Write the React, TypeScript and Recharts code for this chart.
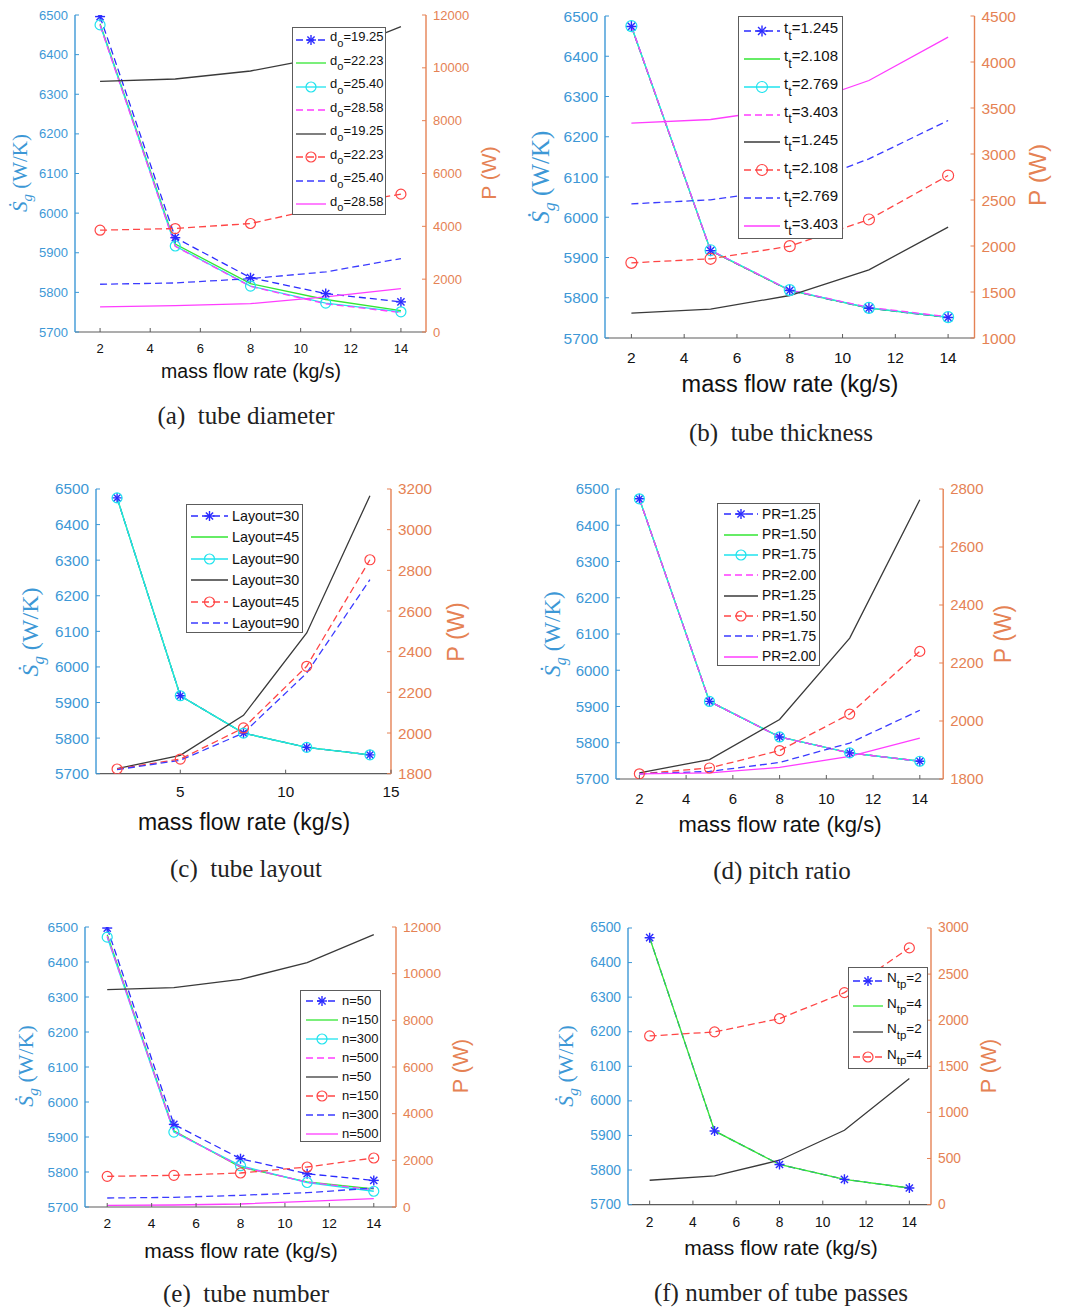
import React from "react";
import { LineChart, Line, XAxis, YAxis } from "recharts";

const SANS = "'Liberation Sans', Arial, Helvetica, sans-serif";
const SERIF = "'Liberation Serif', 'Times New Roman', serif";
const LEFT_AXIS = "#3d98d6";
const RIGHT_AXIS = "#e58254";
const FRAME = "#5c5c5c";

// shared x values (kg/s) and axis ticks
const flowRate = [2, 5, 8, 11, 14];
const xTicksEven = [2, 4, 6, 8, 10, 12, 14];
const xTicksFive = [5, 10, 15];
const entropyTicks = [5700, 5800, 5900, 6000, 6100, 6200, 6300, 6400, 6500];
const powerTicks12k = [0, 2000, 4000, 6000, 8000, 10000, 12000];
const powerTicks4500 = [1000, 1500, 2000, 2500, 3000, 3500, 4000, 4500];
const powerTicks3200 = [1800, 2000, 2200, 2400, 2600, 2800, 3000, 3200];
const powerTicks2800 = [1800, 2000, 2200, 2400, 2600, 2800];
const powerTicks3000 = [0, 500, 1000, 1500, 2000, 2500, 3000];

// (a) tube diameter
const diameterKeys = ["19.25", "22.23", "25.40", "28.58"];
const diameterEntropy = [
  [6496, 5938, 5837, 5797, 5776],
  [6478, 5922, 5822, 5782, 5754],
  [6475, 5917, 5816, 5773, 5751],
  [6474, 5916, 5815, 5771, 5749],
];
const diameterPower = [
  [9488, 9577, 9880, 10420, 11560],
  [3854, 3917, 4107, 4738, 5218],
  [1807, 1857, 2021, 2274, 2780],
  [948, 998, 1074, 1327, 1643],
];

// (b) tube thickness
const thicknessKeys = ["1.245", "2.108", "2.769", "3.403"];
const thicknessEntropy = [
  [6474, 5917, 5818, 5774, 5751],
  [6474, 5917, 5818, 5774, 5751],
  [6475, 5918, 5819, 5775, 5752],
  [6475, 5918, 5819, 5776, 5753],
];
const thicknessPower = [
  [1270, 1313, 1462, 1741, 2205],
  [1817, 1861, 1998, 2288, 2766],
  [2458, 2502, 2620, 2947, 3364],
  [3335, 3375, 3500, 3799, 4270],
];

// (c) tube layout
const layoutKeys = ["30", "45", "90"];
const layoutEntropy = [
  [6475, 5919, 5814, 5774, 5753],
  [6475, 5919, 5814, 5774, 5753],
  [6475, 5919, 5814, 5774, 5753],
];
const layoutPower = [
  [1825, 1890, 2087, 2492, 3167],
  [1823, 1872, 2025, 2328, 2852],
  [1820, 1866, 2000, 2295, 2754],
];

// (d) pitch ratio
const pitchKeys = ["1.25", "1.50", "1.75", "2.00"];
const pitchEntropy = [
  [6473, 5914, 5816, 5772, 5749],
  [6473, 5914, 5816, 5772, 5749],
  [6473, 5914, 5816, 5772, 5749],
  [6473, 5914, 5816, 5772, 5749],
];
const pitchPower = [
  [1821, 1867, 2005, 2286, 2763],
  [1818, 1838, 1898, 2024, 2240],
  [1818, 1826, 1857, 1924, 2037],
  [1818, 1821, 1840, 1878, 1941],
];

// (e) tube number
const tubeKeys = ["50", "150", "300", "500"];
const tubeEntropy = [
  [6497, 5936, 5838, 5795, 5776],
  [6478, 5918, 5814, 5772, 5752],
  [6471, 5914, 5818, 5770, 5745],
  [6474, 5916, 5815, 5771, 5749],
];
const tubePower = [
  [9314, 9400, 9757, 10471, 11671],
  [1314, 1357, 1457, 1714, 2100],
  [386, 414, 500, 614, 814],
  [71, 86, 129, 243, 357],
];

// (f) number of tube passes
const passKeys = ["2", "4"];
const passEntropy = [
  [6472, 5913, 5816, 5773, 5748],
  [6472, 5913, 5816, 5773, 5748],
];
const passPower = [
  [264, 311, 481, 806, 1367],
  [1829, 1873, 2017, 2299, 2784],
];

type Style = { color: string; dash?: string; marker?: "star" | "circle" };

const entropyStyles: Style[] = [
  { color: "#2b2bff", dash: "7 4", marker: "star" },
  { color: "#33e633" },
  { color: "#1fe3ee", marker: "circle" },
  { color: "#ff3dff", dash: "7 4" },
];
const powerStyles: Style[] = [
  { color: "#3a3a3a" },
  { color: "#ff4545", dash: "7 4", marker: "circle" },
  { color: "#3b3bff", dash: "7 4" },
  { color: "#ff3dff" },
];

function Marker({ shape, cx, cy, color, r }: { shape: string; cx: number; cy: number; color: string; r: number }) {
  if (shape === "circle") {
    return <circle cx={cx} cy={cy} r={r} fill="none" stroke={color} strokeWidth={1.2} />;
  }
  const d = r * 0.72;
  return (
    <g stroke={color} strokeWidth={1.4}>
      <line x1={cx - r} y1={cy} x2={cx + r} y2={cy} />
      <line x1={cx} y1={cy - r} x2={cx} y2={cy + r} />
      <line x1={cx - d} y1={cy - d} x2={cx + d} y2={cy + d} />
      <line x1={cx - d} y1={cy + d} x2={cx + d} y2={cy - d} />
    </g>
  );
}

function makeDot(style: Style, r: number) {
  if (!style.marker) return false;
  return (p: any) => (
    <Marker key={`m-${p.index}`} shape={style.marker as string} cx={p.cx} cy={p.cy} color={style.color} r={r} />
  );
}

type Panel = {
  box: [number, number, number, number];
  xTicks: number[];
  pDomain: [number, number];
  pTicks: number[];
  entropy: number[][];
  power: number[][];
  symbol: string;
  sub: string;
  keys: string[];
  tickFont: number;
  tickGap: number;
  xLabel: [number, number, number];
  leftLabel: [number, number, number];
  rightLabel: [number, number, number];
  caption: string;
  captionPos: [number, number];
  legend: { x: number; y: number; w: number; h: number; sample: number; pad: number; font: number };
  marker: number;
};

const panels: Panel[] = [
  {
    box: [75, 15, 426, 332], xTicks: xTicksEven, pDomain: [0, 12000], pTicks: powerTicks12k,
    entropy: diameterEntropy, power: diameterPower, symbol: "d", sub: "o", keys: diameterKeys,
    tickFont: 13, tickGap: 16, xLabel: [251, 372, 19.5], leftLabel: [22, 173, 21], rightLabel: [488, 173, 21],
    caption: "(a)  tube diameter", captionPos: [246, 415],
    legend: { x: 292, y: 27, w: 94, h: 188, sample: 30, pad: 3, font: 13 }, marker: 5,
  },
  {
    box: [605, 15.5, 974.5, 337.5], xTicks: xTicksEven, pDomain: [1000, 4500], pTicks: powerTicks4500,
    entropy: thicknessEntropy, power: thicknessPower, symbol: "t", sub: "t", keys: thicknessKeys,
    tickFont: 15.5, tickGap: 19.5, xLabel: [790, 385, 23.5], leftLabel: [543, 177, 25], rightLabel: [1038, 175, 24.5],
    caption: "(b)  tube thickness", captionPos: [781, 432],
    legend: { x: 738, y: 16, w: 105, h: 223, sample: 36, pad: 5, font: 15 }, marker: 5.5,
  },
  {
    box: [96, 489.3, 391, 774], xTicks: xTicksFive, pDomain: [1800, 3200], pTicks: powerTicks3200,
    entropy: layoutEntropy, power: layoutPower, symbol: "Layout", sub: "", keys: layoutKeys,
    tickFont: 15.3, tickGap: 18, xLabel: [244, 822, 23], leftLabel: [33, 632, 24], rightLabel: [457, 632, 23.5],
    caption: "(c)  tube layout", captionPos: [246, 868],
    legend: { x: 186, y: 504, w: 117, h: 129, sample: 37, pad: 4, font: 14.3 }, marker: 5,
  },
  {
    box: [615.5, 489.3, 942.7, 779.3], xTicks: xTicksEven, pDomain: [1800, 2800], pTicks: powerTicks2800,
    entropy: pitchEntropy, power: pitchPower, symbol: "PR", sub: "", keys: pitchKeys,
    tickFont: 15, tickGap: 20, xLabel: [780, 825, 22], leftLabel: [555, 634, 23], rightLabel: [1003, 634, 23],
    caption: "(d) pitch ratio", captionPos: [782, 870],
    legend: { x: 717, y: 503, w: 103, h: 163, sample: 34, pad: 6, font: 13.8 }, marker: 5,
  },
  {
    box: [85, 926.7, 396, 1206.7], xTicks: xTicksEven, pDomain: [0, 12000], pTicks: powerTicks12k,
    entropy: tubeEntropy, power: tubePower, symbol: "n", sub: "", keys: tubeKeys,
    tickFont: 13.7, tickGap: 16, xLabel: [241, 1250, 21], leftLabel: [28, 1066, 22], rightLabel: [462, 1066, 21.5],
    caption: "(e)  tube number", captionPos: [246, 1293],
    legend: { x: 300, y: 990, w: 81, h: 152, sample: 32, pad: 5, font: 13 }, marker: 5,
  },
  {
    box: [628, 927.7, 931, 1204.3], xTicks: xTicksEven, pDomain: [0, 3000], pTicks: powerTicks3000,
    entropy: passEntropy, power: passPower, symbol: "N", sub: "tp", keys: passKeys,
    tickFont: 13.8, tickGap: 18, xLabel: [781, 1247, 21], leftLabel: [568, 1066, 22], rightLabel: [990, 1066, 21.5],
    caption: "(f) number of tube passes", captionPos: [781, 1292],
    legend: { x: 848, y: 967, w: 80, h: 102, sample: 30, pad: 4, font: 13.5 }, marker: 5,
  },
];

const AXIS_W = 60;
const AXIS_H = 34;
const TOP = 16;
const TICK = 4;

function SeriesName({ symbol, sub, value }: { symbol: string; sub: string; value: string }) {
  return (
    <span>
      {symbol}
      {sub ? <span style={{ fontSize: "0.85em", position: "relative", top: "0.5em" }}>{sub}</span> : null}
      {"=" + value}
    </span>
  );
}

function LegendBox({ p }: { p: Panel }) {
  const n = p.keys.length;
  const entries = [
    ...p.keys.map((k, i) => ({ key: k, style: entropyStyles[i] })),
    ...p.keys.map((k, i) => ({ key: k, style: powerStyles[i] })),
  ];
  const L = p.legend;
  const rowH = L.h / (2 * n);
  return (
    <div
      style={{
        position: "absolute", left: L.x, top: L.y, width: L.w, height: L.h, boxSizing: "border-box",
        border: `1.3px solid ${FRAME}`, background: "#fff", fontFamily: SANS, fontSize: L.font, color: "#111",
      }}
    >
      {entries.map((e, i) => (
        <div key={i} style={{ position: "absolute", left: L.pad, top: rowH * i, height: rowH, display: "flex", alignItems: "center", whiteSpace: "nowrap" }}>
          <svg width={L.sample} height={14} style={{ marginRight: 4, flex: "none" }}>
            <line x1={0} y1={7} x2={L.sample} y2={7} stroke={e.style.color} strokeWidth={1.3} strokeDasharray={e.style.dash} />
            {e.style.marker ? <Marker shape={e.style.marker} cx={L.sample / 2} cy={7} color={e.style.color} r={p.marker} /> : null}
          </svg>
          <div style={{ marginTop: p.sub ? -6 : 0 }}>
            <SeriesName symbol={p.symbol} sub={p.sub} value={e.key} />
          </div>
        </div>
      ))}
    </div>
  );
}

function PanelChart({ p }: { p: Panel }) {
  const [x0, y0, x1, y1] = p.box;
  const width = x1 - x0 + 2 * AXIS_W;
  const height = y1 - y0 + TOP + AXIS_H;
  const rows = flowRate.map((x, i) => {
    const row: Record<string, number> = { x };
    p.entropy.forEach((s, j) => (row[`s${j}`] = s[i]));
    p.power.forEach((s, j) => (row[`p${j}`] = s[i]));
    return row;
  });
  const font = { fontFamily: SANS, fontSize: p.tickFont };

  const bottomTick = (t: any) => (
    <g key={`b-${t.index}`}>
      <line x1={t.x} x2={t.x} y1={t.y} y2={t.y - TICK} stroke={FRAME} />
      <text x={t.x} y={t.y + p.tickGap} textAnchor="middle" dominantBaseline="central" fill="#111" {...font}>
        {t.payload.value}
      </text>
    </g>
  );
  const topTick = (t: any) => (
    <line key={`t-${t.index}`} x1={t.x} x2={t.x} y1={t.y} y2={t.y + TICK} stroke={FRAME} />
  );
  const leftTick = (t: any) => (
    <g key={`l-${t.index}`}>
      <line x1={t.x} x2={t.x + TICK} y1={t.y} y2={t.y} stroke={LEFT_AXIS} />
      <text x={t.x - 7} y={t.y} textAnchor="end" dominantBaseline="central" fill={LEFT_AXIS} {...font}>
        {t.payload.value}
      </text>
    </g>
  );
  const rightTick = (t: any) => (
    <g key={`r-${t.index}`}>
      <line x1={t.x} x2={t.x - TICK} y1={t.y} y2={t.y} stroke={RIGHT_AXIS} />
      <text x={t.x + 7} y={t.y} textAnchor="start" dominantBaseline="central" fill={RIGHT_AXIS} {...font}>
        {t.payload.value}
      </text>
    </g>
  );

  return (
    <>
      <div style={{ position: "absolute", left: x0 - AXIS_W, top: y0 - TOP }}>
        <LineChart width={width} height={height} data={rows} margin={{ top: TOP, right: 0, bottom: 0, left: 0 }}>
          <XAxis
            xAxisId="bottom" dataKey="x" type="number" domain={[1, 15]} ticks={p.xTicks} interval={0}
            orientation="bottom" height={AXIS_H} tickSize={0} tickMargin={0} tickLine={false}
            axisLine={{ stroke: FRAME, strokeWidth: 1.2 }} tick={bottomTick} allowDataOverflow
          />
          <XAxis
            xAxisId="top" dataKey="x" type="number" domain={[1, 15]} ticks={p.xTicks} interval={0}
            orientation="top" height={0} tickSize={0} tickMargin={0} tickLine={false}
            axisLine={{ stroke: FRAME, strokeWidth: 1.2 }} tick={topTick} allowDataOverflow
          />
          <YAxis
            yAxisId="s" orientation="left" type="number" width={AXIS_W} domain={[5700, 6500]} ticks={entropyTicks}
            interval={0} tickSize={0} tickMargin={0} tickLine={false}
            axisLine={{ stroke: LEFT_AXIS, strokeWidth: 1.4 }} tick={leftTick} allowDataOverflow
          />
          <YAxis
            yAxisId="p" orientation="right" type="number" width={AXIS_W} domain={p.pDomain} ticks={p.pTicks}
            interval={0} tickSize={0} tickMargin={0} tickLine={false}
            axisLine={{ stroke: RIGHT_AXIS, strokeWidth: 1.4 }} tick={rightTick} allowDataOverflow
          />
          {p.entropy.map((_, j) => (
            <Line
              key={`s${j}`} xAxisId="bottom" yAxisId="s" type="linear" dataKey={`s${j}`}
              stroke={entropyStyles[j].color} strokeWidth={1.3} strokeDasharray={entropyStyles[j].dash}
              dot={makeDot(entropyStyles[j], p.marker)} activeDot={false} isAnimationActive={false}
            />
          ))}
          {p.power.map((_, j) => (
            <Line
              key={`p${j}`} xAxisId="bottom" yAxisId="p" type="linear" dataKey={`p${j}`}
              stroke={powerStyles[j].color} strokeWidth={1.3} strokeDasharray={powerStyles[j].dash}
              dot={makeDot(powerStyles[j], p.marker)} activeDot={false} isAnimationActive={false}
            />
          ))}
        </LineChart>
      </div>
      <LegendBox p={p} />
      <div style={centered(p.xLabel[0], p.xLabel[1], { fontFamily: SANS, fontSize: p.xLabel[2], color: "#111" })}>
        mass flow rate (kg/s)
      </div>
      <div style={centered(p.captionPos[0], p.captionPos[1], { fontFamily: SERIF, fontSize: 25, color: "#222", whiteSpace: "pre" })}>
        {p.caption}
      </div>
      <div style={centered(p.leftLabel[0], p.leftLabel[1], { fontFamily: SERIF, fontSize: p.leftLabel[2], color: LEFT_AXIS }, true)}>
        <span style={{ fontStyle: "italic" }}>{"S\u0307"}</span>
        <sub style={{ fontStyle: "italic", fontSize: "0.7em" }}>g</sub> (W/K)
      </div>
      <div style={centered(p.rightLabel[0], p.rightLabel[1], { fontFamily: SANS, fontSize: p.rightLabel[2], color: RIGHT_AXIS }, true)}>
        P (W)
      </div>
    </>
  );
}

function centered(cx: number, cy: number, extra: React.CSSProperties, rotate = false): React.CSSProperties {
  return {
    position: "absolute", left: cx, top: cy, whiteSpace: "nowrap", lineHeight: 1,
    transform: `translate(-50%, -50%)${rotate ? " rotate(-90deg)" : ""}`, ...extra,
  };
}

export default function App() {
  return (
    <div style={{ position: "absolute", left: 0, top: 0, width: 1069, height: 1307, background: "#fff", overflow: "hidden" }}>
      {panels.map((p, i) => (
        <PanelChart key={i} p={p} />
      ))}
    </div>
  );
}
